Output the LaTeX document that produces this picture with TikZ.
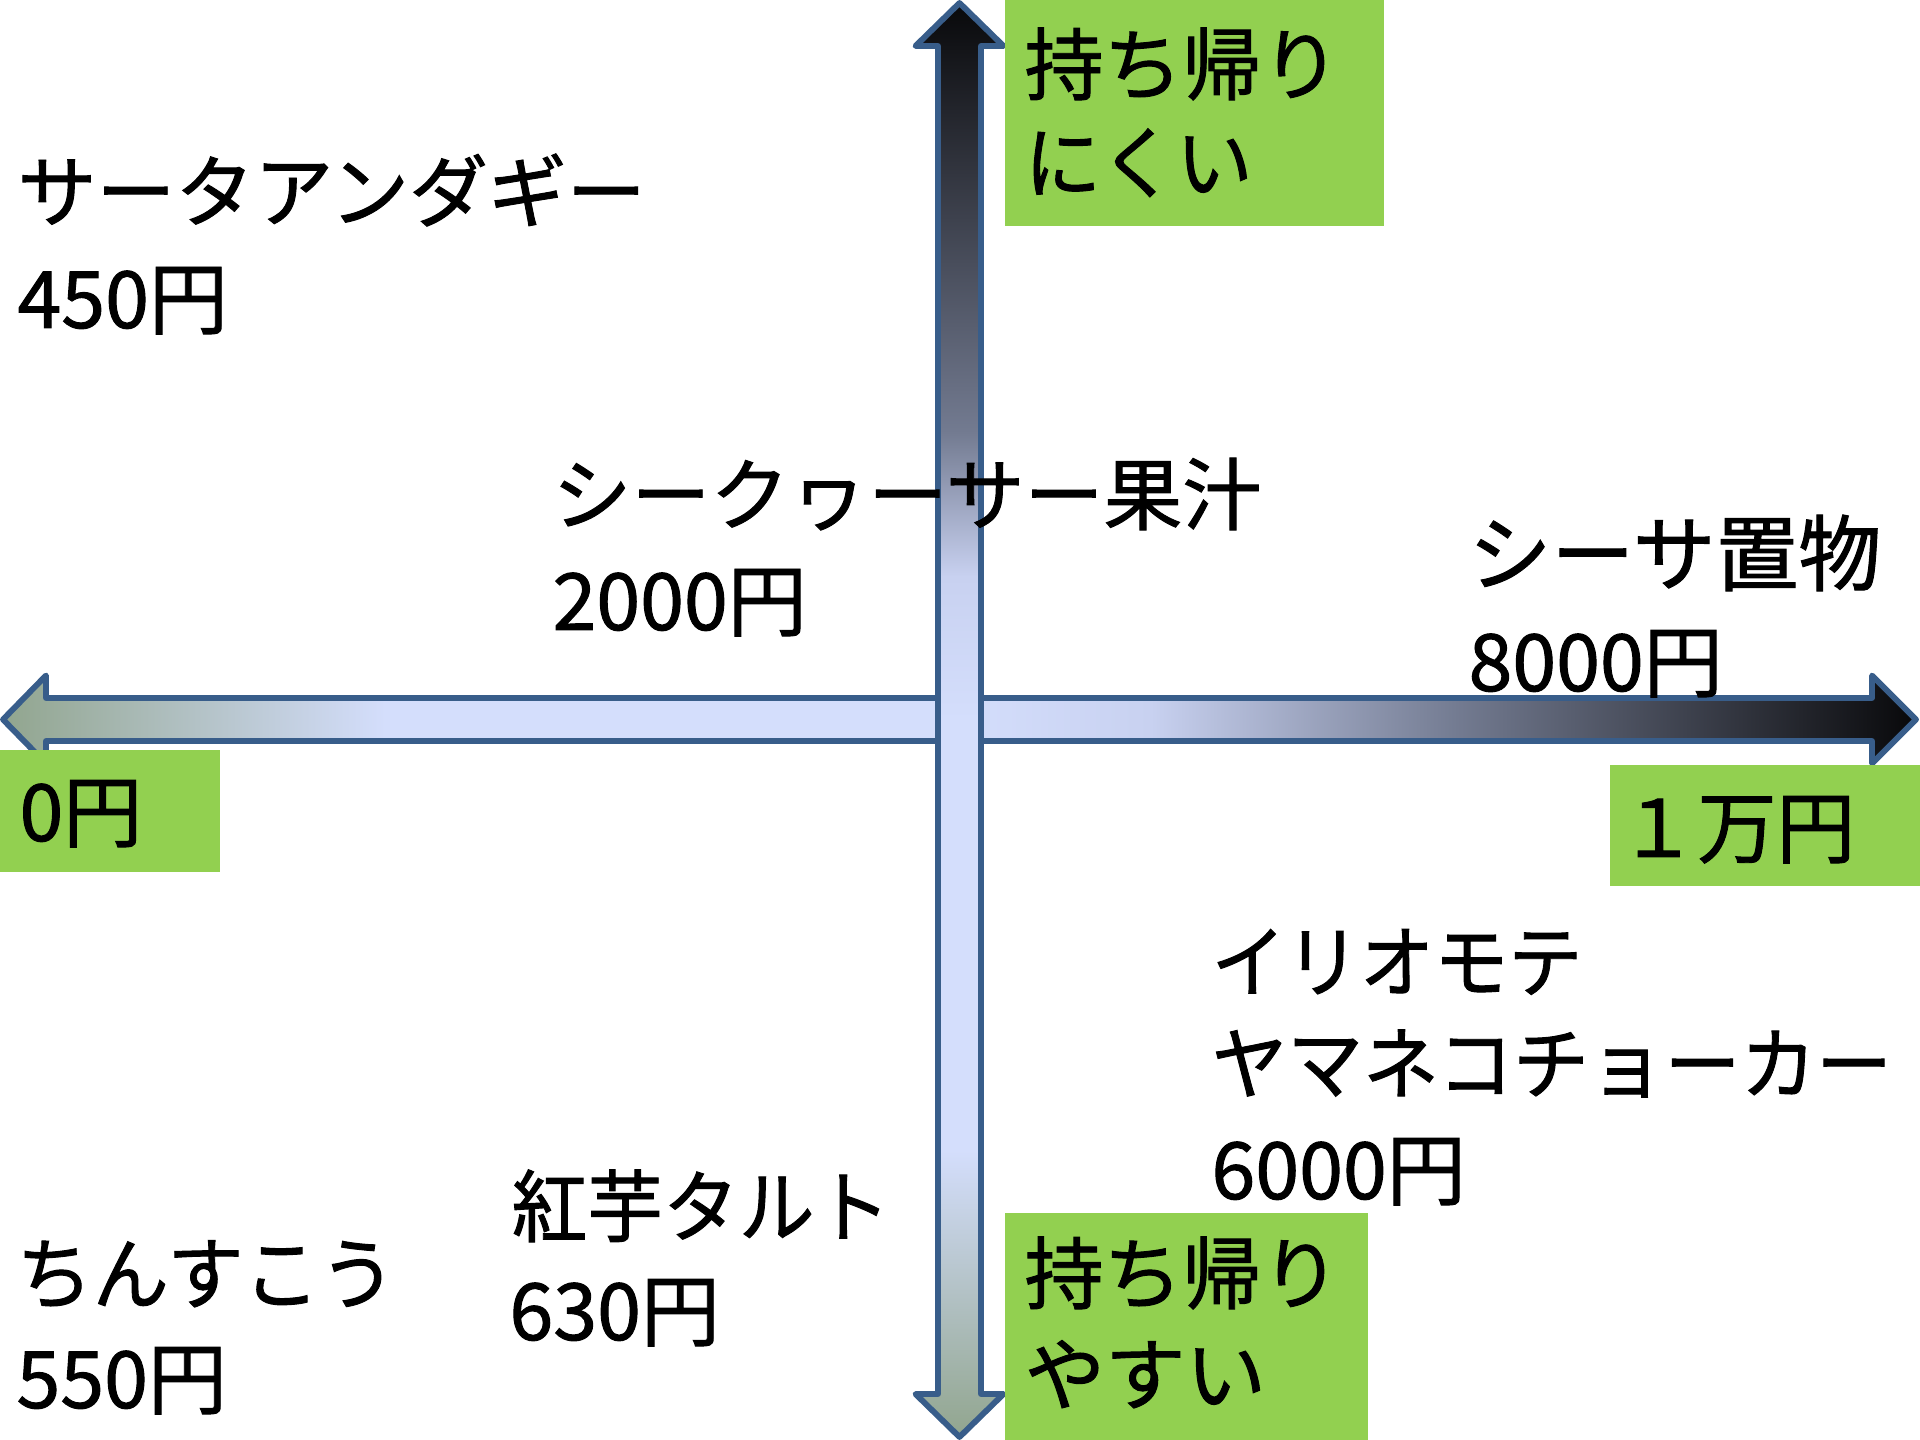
\documentclass[tikz,border=0pt]{standalone}
\usepackage{fontspec}
\setmainfont{Noto Sans CJK JP}
\newfontfamily\jp{Noto Sans CJK JP}[FakeBold=1.2]
\definecolor{ggreen}{RGB}{145,165,142}
\definecolor{lblue}{RGB}{212,222,252}
\definecolor{lblueb}{RGB}{200,209,240}
\definecolor{mgray}{RGB}{115,123,145}
\definecolor{nblack}{RGB}{8,8,10}
\definecolor{bordc}{RGB}{56,93,138}
\definecolor{boxgreen}{RGB}{146,208,80}
\pgfdeclarehorizontalshading{hshade}{100bp}{color(0bp)=(ggreen); color(25bp)=(ggreen); color(35bp)=(lblue); color(50bp)=(lblue); color(55bp)=(lblueb); color(63bp)=(mgray); color(75bp)=(nblack); color(100bp)=(nblack)}
\pgfdeclareverticalshading{vshade}{100bp}{color(0bp)=(ggreen); color(25bp)=(ggreen); color(35bp)=(lblue); color(50bp)=(lblue); color(55bp)=(lblueb); color(60bp)=(mgray); color(75bp)=(nblack); color(100bp)=(nblack)}
\tikzset{
  lbl/.style={anchor=west, inner sep=0pt, font=\jp\fontsize{29.6pt}{36pt}\selectfont, text height=26pt, text depth=3.55pt},
  arrowbody/.style={draw=bordc, line width=2.2pt, line join=round},
  gbox/.style={fill=boxgreen}
}
\begin{document}
\begin{tikzpicture}[x=0.375pt, y=-0.375pt]
\useasboundingbox (0,0) rectangle (1920,1440);
% horizontal arrow
\path[arrowbody, shading=hshade]
  (3,719.5) -- (46,675.5) -- (46,698) -- (1872,698) -- (1872,675.5) -- (1916,719.5)
  -- (1872,763.5) -- (1872,741) -- (46,741) -- (46,763.5) -- cycle;
% vertical arrow
\path[arrowbody, shading=vshade]
  (959.5,3) -- (1003.5,46) -- (981,46) -- (981,1394) -- (1003.5,1394) -- (959.5,1437)
  -- (915.5,1394) -- (938,1394) -- (938,46) -- (915.5,46) -- cycle;
% green boxes
\fill[gbox] (1005,0) rectangle (1384,226);
\fill[gbox] (0,750) rectangle (220,872);
\fill[gbox] (1610,765) rectangle (1920,886);
\fill[gbox] (1005,1213) rectangle (1368,1440);
% labels
\node[lbl] (sata1) at (17,191) {サータアンダギー};
\node[lbl] (sata2) at (17,298) {450円};
\node[lbl] (shiku1) at (552,494) {シークヮーサー果汁};
\node[lbl] (shiku2) at (552,600) {2000円};
\node[lbl, xscale=1.05, yscale=1.05] (shisa1) at (1468,553) {シーサ置物};
\node[lbl] (shisa2) at (1468,661) {8000円};
\node[lbl] (mt1) at (1024,64) {持ち帰り};
\node[lbl, xscale=0.97] (mt2) at (1024,162) {にくい};
\node[lbl] (zero) at (19,811) {0円};
\node[lbl] (man) at (1618,827) {１万円};
\node[lbl, xscale=0.94] (iri1) at (1211,961) {イリオモテ};
\node[lbl, xscale=0.96] (iri2) at (1211,1063) {ヤマネコチョーカー};
\node[lbl] (iri3) at (1211,1169) {6000円};
\node[lbl, xscale=0.96] (beni1) at (511,1206) {紅芋タルト};
\node[lbl] (beni2) at (509,1310) {630円};
\node[lbl, xscale=0.965] (chin1) at (16,1273) {ちんすこう};
\node[lbl] (chin2) at (16,1378) {550円};
\node[lbl] (my1) at (1024,1273) {持ち帰り};
\node[lbl, xscale=1.02] (my2) at (1024,1374) {やすい};
\end{tikzpicture}
\end{document}
